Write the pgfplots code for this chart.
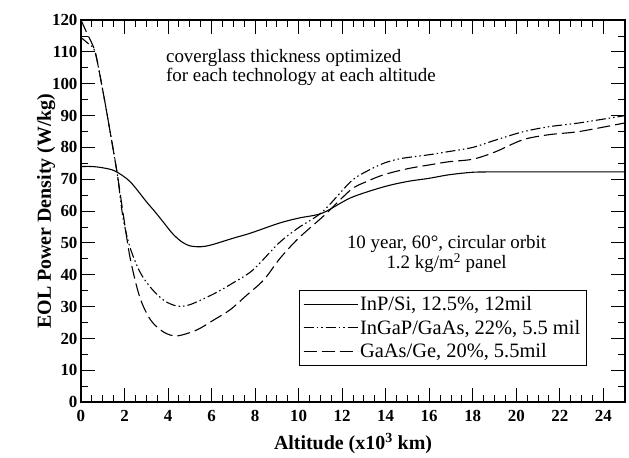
\documentclass[border=0pt]{standalone}
\usepackage{pgfplots}
\pgfplotsset{compat=1.18}
\usepackage{fontspec}
\setmainfont{Liberation Serif}

\begin{document}
\begin{tikzpicture}
\begin{axis}[
  width=544bp, height=382bp,
  scale only axis,
  xmin=0, xmax=25,
  ymin=0, ymax=120,
  xtick={0,2,...,24},
  ytick={0,10,...,120},
  minor x tick num=3,
  minor y tick num=1,
  tick align=inside,
  major tick length=14bp,
  minor tick length=7bp,
  every tick/.style={black, line width=0.9pt},
  axis line style={line width=1.3pt},
  /pgf/number format/assume math mode=true,
  tick label style={font=\bfseries\fontsize{17}{17}\selectfont},
  xticklabel style={yshift=-5bp},
  label style={font=\bfseries\fontsize{20}{22}\selectfont},
  xlabel={Altitude (x10\textsuperscript{3} km)},
  ylabel={EOL Power Density (W/kg)},
  xlabel style={yshift=-4bp},
  ylabel style={yshift=-10bp},
  legend style={
    at={(axis cs:10,35.2)}, anchor=north west,
    draw=black, line width=0.8pt,
    font=\fontsize{20.5}{22}\selectfont,
    row sep=4bp, inner xsep=4bp, inner ysep=4bp,
    cells={anchor=west}
  },
  legend image code/.code={\draw[#1] (0bp,0bp) -- (45bp,0bp);
    \path (0bp,0bp) -- (54bp,0bp);},
  clip=true
]

% InP/Si
\addplot[black, line width=1.1pt, smooth] coordinates {
  (0,74) (0.5,74) (1,73.6) (1.56,72.6) (2.25,69.3) (3,63) (3.4,59.8)
  (3.8,56.4) (4.2,53) (4.6,50.5) (5,49.1) (5.5,48.8) (6,49.4) (7,51.5) (7.8,53.1)
  (9.1,56.2) (10,57.8) (11.1,59.4) (12.4,64.2) (13.9,67.6) (15,69.3)
  (16,70.3) (16.9,71.4) (18,72.2) (19,72.3) (20,72.3) (22,72.3) (25,72.3)
};
\addlegendentry{InP/Si, 12.5\%, 12mil}

% InGaP/GaAs
\addplot[black, line width=1.1pt, smooth,
  dash pattern=on 10bp off 3bp on 1.5bp off 3bp on 1.5bp off 3bp] coordinates {
  (0,114.5) (0.35,112.5) (0.65,110) (1,98) (1.3,86.5) (1.66,72) (1.93,58)
  (2.25,48.7) (2.7,41) (3.2,36) (3.8,32) (4.4,30.2) (5,30.6) (6.1,34)
  (7,37.5) (7.9,41.5) (9.1,50) (10,54.8) (11.1,59.8) (12.4,69.3) (13.1,72.4)
  (13.9,75) (14.7,76.5) (16,77.7) (16.9,78.7) (18,80) (19,82.2) (20.3,84.9)
  (21.5,86.5) (22.9,87.7) (25,90)
};
\addlegendentry{InGaP/GaAs, 22\%, 5.5 mil}

% GaAs/Ge
\addplot[black, line width=1.1pt, smooth,
  dash pattern=on 13bp off 5bp] coordinates {
  (0,120) (0.3,115.5) (0.65,110) (1,98) (1.3,86.5) (1.66,72) (1.9,61)
  (2.25,45.6) (2.7,33) (3.2,25.8) (3.8,22) (4.4,20.8) (5.3,22.6) (6.1,25.8)
  (6.85,29) (7.6,33.5) (8.4,38.4) (9.15,45.2) (10,51.5) (11.2,58.8)
  (12.4,66.7) (13.1,69.2) (13.9,71.4) (15,73.3) (16,74.5) (16.9,75.5)
  (18,76.3) (19,78.5) (20.3,82.4) (21.5,84) (22.9,85) (25,87.7)
};
\addlegendentry{GaAs/Ge, 20\%, 5.5mil}

\node[anchor=west, align=left, font=\fontsize{19}{19}\selectfont]
  at (axis cs:3.75,105)
  {coverglass thickness optimized\\for each technology at each altitude};

\node[align=center, font=\fontsize{19}{20}\selectfont]
  at (axis cs:16.8,46.5)
  {10 year, 60°, circular orbit\\1.2 kg/m\textsuperscript{2} panel};

% frame of the reference image
\coordinate (ll) at (axis cs:-3.72,-17.28);
\coordinate (ur) at (axis cs:25.18,126.3);
\end{axis}
\pgfresetboundingbox
\useasboundingbox (ll) rectangle (ur);
\end{tikzpicture}
\end{document}
